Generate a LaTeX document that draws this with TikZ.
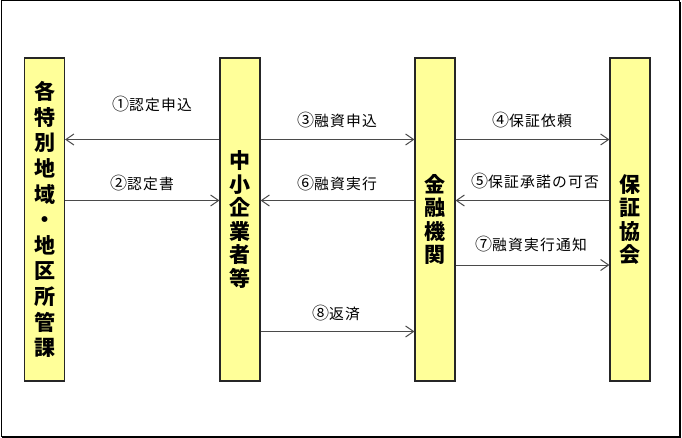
\documentclass[tikz,border=0pt]{standalone}
\usepackage{fontspec}
\usetikzlibrary{arrows.meta}
\newfontfamily\jp{Noto Sans CJK JP}
\newfontfamily\jplab[LetterSpace=8]{Noto Sans CJK JP}
\newcommand\cnum[1]{{\fontsize{17}{16}\selectfont #1}}
\definecolor{baryellow}{HTML}{FFFF99}
\definecolor{arrgray}{HTML}{4A4A4A}
\tikzset{
  bar/.style={draw=black!85, line width=1.1pt, fill=baryellow, minimum width=40pt, minimum height=323pt,
    inner sep=0pt, align=center, font=\jp\bfseries\fontsize{21}{23.5}\selectfont},
  arr/.style={draw=arrgray, line width=1pt, -{Straight Barb[length=8pt,width=11pt]}},
  lab/.style={inner sep=0pt, font=\jplab\fontsize{14.8}{16}\selectfont},
}
\begin{document}
\begin{tikzpicture}[x=1pt,y=-1pt]
\useasboundingbox (0,0) rectangle (682,438);
\draw[line width=1pt] (1,1) rectangle (679.5,436);
\draw[line width=1pt] (680.5,2) -- (680.5,437) -- (2,437);
\node[bar, font=\jp\bfseries\fontsize{21}{25.6}\selectfont] (b1) at (44.5,219.5) {各\\特\\別\\地\\域\\・\\地\\区\\所\\管\\課};
\node[bar] (b2) at (240,219.5) {中\\小\\企\\業\\者\\等};
\node[bar] (b3) at (435,219.5) {金\\融\\機\\関};
\node[bar] (b4) at (630,219.5) {保\\証\\協\\会};
\coordinate (ya) at (0,139.5);
\coordinate (yb) at (0,200.5);
\coordinate (yc) at (0,265);
\coordinate (yd) at (0,331.5);
\draw[arr] (b2.west |- ya) -- (b1.east |- ya);
\draw[arr] (b1.east |- yb) -- (b2.west |- yb);
\draw[arr] (b2.east |- ya) -- (b3.west |- ya);
\draw[arr] (b3.west |- yb) -- (b2.east |- yb);
\draw[arr] (b3.east |- ya) -- (b4.west |- ya);
\draw[arr] (b4.west |- yb) -- (b3.east |- yb);
\draw[arr] (b3.east |- yc) -- (b4.west |- yc);
\draw[arr] (b2.east |- yd) -- (b3.west |- yd);
\node[lab] (l1) at (152,104) {\cnum{①}認定申込};
\node[lab] (l2) at (142,183.5) {\cnum{②}認定書};
\node[lab] (l3) at (337,120) {\cnum{③}融資申込};
\node[lab] (l6) at (337,183) {\cnum{⑥}融資実行};
\node[lab] (l4) at (532,120) {\cnum{④}保証依頼};
\node[lab] (l5) at (535,181) {\cnum{⑤}保証承諾の可否};
\node[lab] (l7) at (531,244.5) {\cnum{⑦}融資実行通知};
\node[lab] (l8) at (336,313.5) {\cnum{⑧}返済};
\end{tikzpicture}
\end{document}
